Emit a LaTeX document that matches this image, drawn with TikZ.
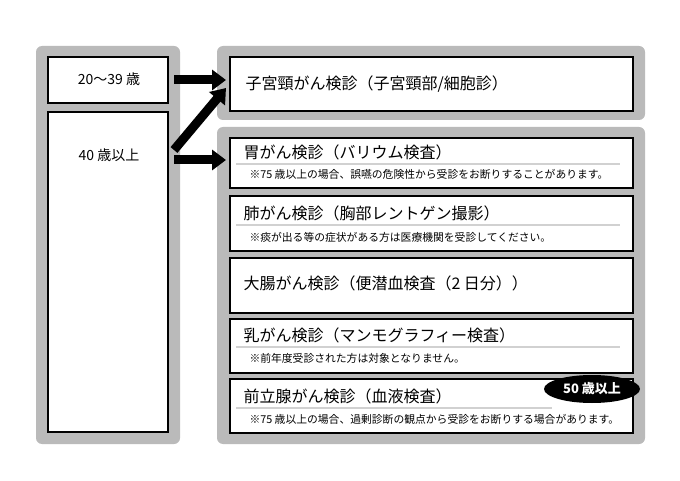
\documentclass[tikz,border=0pt]{standalone}
\usepackage{fontspec}
\setmainfont{Noto Sans CJK JP}
\usetikzlibrary{arrows.meta,shapes.geometric}
\begin{document}
\begin{tikzpicture}[x=1pt,y=-1pt,
 panel/.style={fill=black!27,rounded corners=6pt},
 box/.style={draw,line width=1.6pt,fill=white},
 ttl/.style={anchor=west,font=\fontsize{16}{16}\selectfont},
 note/.style={anchor=west,font=\fontsize{10.8}{11}\selectfont},
 lbl/.style={font=\fontsize{14}{14}\selectfont},
 uline/.style={black!18,line width=2pt},
 big/.style={line width=9pt,-{Triangle[length=14pt,width=20pt]}}]
\useasboundingbox (0,0) rectangle (680,481);
\fill[panel] (36,46) rectangle (180,444);
\fill[panel] (217,46) rectangle (645,120);
\fill[panel] (217,127) rectangle (645,444);
\node[box,minimum width=120,minimum height=46,anchor=north west] (a) at (47,56) {};
\node[lbl] (at) at (109,79) {20〜39 歳};
\node[box,minimum width=120,minimum height=320,anchor=north west] (b) at (47,111) {};
\node[lbl] (bt) at (109,155) {40 歳以上};
\node[box,minimum width=403,minimum height=54,anchor=north west] (c) at (229,56) {};
\node[ttl] (ct) at (242,84) {子宮頸がん検診（子宮頸部/細胞診）};
\foreach \n/\y/\h in {d/137/50,e/195/55,f/257/55,g/318/54,h/378/54}
 \node[box,minimum width=403,minimum height=\h,anchor=north west] (\n) at (229,\y) {};
\draw[uline] (236,164) -- (620,164);
\node[ttl] (dt) at (240,152) {胃がん検診（バリウム検査）};
\node[note] (dn) at (246,174) {※75 歳以上の場合、誤嚥の危険性から受診をお断りすることがあります。};
\draw[uline] (236,225) -- (620,225);
\node[ttl] (et) at (240,213) {肺がん検診（胸部レントゲン撮影）};
\node[note] (en) at (246,237) {※痰が出る等の症状がある方は医療機関を受診してください。};
\node[ttl] (ft) at (240,283) {大腸がん検診（便潜血検査（2 日分））};
\draw[uline] (236,347) -- (620,347);
\node[ttl] (gt) at (240,335) {乳がん検診（マンモグラフィー検査）};
\node[note] (gn) at (246,358) {※前年度受診された方は対象となりません。};
\draw[uline] (236,408) -- (552,408);
\node[ttl] (ht) at (240,396) {前立腺がん検診（血液検査）};
\node[note] (hn) at (246,419) {※75 歳以上の場合、過剰診断の観点から受診をお断りする場合があります。};
\node[ellipse,fill=black,minimum width=96,minimum height=28,text=white,font=\fontsize{13}{13}\bfseries\selectfont] (age) at (592,389) {50 歳以上};
\draw[big] (174,80) -- (226,80);
\draw[big] (174,150) -- (226,88);
\draw[big] (174,160) -- (226,160);
\end{tikzpicture}
\end{document}
